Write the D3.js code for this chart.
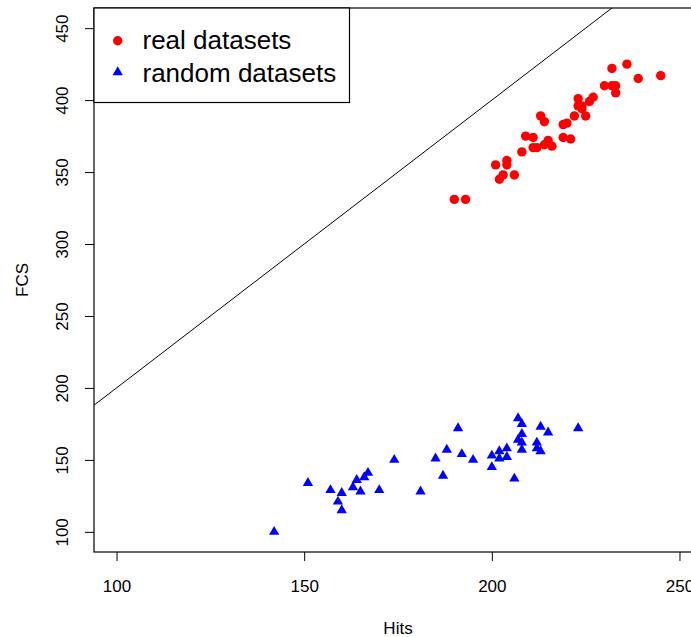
<!DOCTYPE html>
<html>
<head>
<meta charset="utf-8">
<script src="https://cdn.jsdelivr.net/npm/d3@7"></script>
<style>
  html, body { margin: 0; padding: 0; background: #fff; }
  svg { display: block; font-family: "Liberation Sans", Arial, Helvetica, sans-serif; }
</style>
</head>
<body>
<svg id="chart" width="691" height="637"></svg>
<script>
// ---- data ----
const realHits = [236,232,245,239,230,232,233,233,227,226,223,223,224,224,222,225,213,214,219,220,209,211,219,221,211,212,214,215,216,208,201,204,204,206,203,202,190,193];
const realFCS  = [425,422,417,415,410,410,410,405,402,399,401,396,396,394,389,389,389,385,383,384,375,374,374,373,367,367,369,372,368,364,355,358,355,348,348,345,331,331];
const randomHits = [142,151,157,160,159,160,163,164,166,167,165,170,174,181,185,187,188,191,192,195,200,200,202,202,204,204,206,207,208,208,207,208,208,213,212,212,213,215,223];
const randomFCS  = [100,134,129,127,121,115,131,136,138,141,128,129,150,128,151,139,157,172,154,150,153,145,156,151,158,152,137,179,175,168,164,162,157,173,162,158,156,169,172];
const xTicks = [100,150,200,250];
const yTicks = [100,150,200,250,300,350,400,450];
const xLim = [100,250];
const yLim = [100,450];
const legendLabels = ["real datasets","random datasets"];
const xLabel = "Hits";
const yLabel = "FCS";
const ablineSlope = 2, ablineIntercept = 0;

// ---- layout ----
const svg = d3.select("#chart");
const plot = {left: 94, top: 8, right: 702, bottom: 552};
const ext = (l) => { const d = (l[1]-l[0])*0.04; return [l[0]-d, l[1]+d]; };
const x = d3.scaleLinear().domain(ext(xLim)).range([plot.left, plot.right]);
const y = d3.scaleLinear().domain(ext(yLim)).range([plot.bottom, plot.top]);

svg.append("defs").append("clipPath").attr("id","clip")
  .append("rect").attr("x",plot.left).attr("y",plot.top)
  .attr("width",plot.right-plot.left).attr("height",plot.bottom-plot.top);

// abline y = 2x
const xd = x.domain();
svg.append("line").attr("clip-path","url(#clip)")
  .attr("x1", x(xd[0])).attr("y1", y(ablineIntercept + ablineSlope*xd[0]))
  .attr("x2", x(xd[1])).attr("y2", y(ablineIntercept + ablineSlope*xd[1]))
  .attr("stroke","#000").attr("stroke-width",1);

// points
svg.append("g").attr("clip-path","url(#clip)").selectAll("circle")
  .data(realHits.map((h,i)=>[h,realFCS[i]])).join("circle")
  .attr("cx", d=>x(d[0])).attr("cy", d=>y(d[1])).attr("r",4.7).attr("fill","#ff0000");

const tri = d3.symbol().type(d3.symbolTriangle).size(46);
svg.append("g").attr("clip-path","url(#clip)").selectAll("path")
  .data(randomHits.map((h,i)=>[h,randomFCS[i]])).join("path")
  .attr("d", tri).attr("transform", d=>`translate(${x(d[0])},${y(d[1])})`).attr("fill","#0000ff");

// axes
const xAxis = svg.append("g").attr("transform",`translate(0,${plot.bottom})`)
  .call(d3.axisBottom(x).tickValues(xTicks).tickSize(9).tickPadding(18.5).tickFormat(d3.format("d")));
xAxis.select(".domain").remove();
xAxis.selectAll("line").attr("stroke","#000");
xAxis.selectAll("text").attr("font-size",17).attr("fill","#000").attr("font-family",null);

const yAxis = svg.append("g").attr("transform",`translate(${plot.left},0)`)
  .call(d3.axisLeft(y).tickValues(yTicks).tickSize(9).tickFormat(d3.format("d")));
yAxis.select(".domain").remove();
yAxis.selectAll("line").attr("stroke","#000");
yAxis.selectAll("text").attr("font-size",17).attr("fill","#000").attr("font-family",null)
  .attr("x",null).attr("dy",null).attr("text-anchor","middle")
  .attr("transform", `translate(${68.3-plot.left},0) rotate(-90)`);

// box
svg.append("rect").attr("x",plot.left).attr("y",plot.top)
  .attr("width",plot.right-plot.left).attr("height",plot.bottom-plot.top)
  .attr("fill","none").attr("stroke","#000").attr("stroke-width",1.2);

// axis titles
svg.append("text").attr("x",(plot.left+plot.right)/2).attr("y",633.5)
  .attr("text-anchor","middle").attr("font-size",17).text(xLabel);
svg.append("text").attr("transform",`translate(28.3,${(plot.top+plot.bottom)/2}) rotate(-90)`)
  .attr("text-anchor","middle").attr("font-size",17).text(yLabel);

// legend
const lg = svg.append("g");
lg.append("rect").attr("x",plot.left).attr("y",plot.top).attr("width",255.5).attr("height",94.5)
  .attr("fill","#fff").attr("stroke","#000").attr("stroke-width",1.2);
lg.append("circle").attr("cx",117.7).attr("cy",40.7).attr("r",4.7).attr("fill","#ff0000");
lg.append("path").attr("d",tri).attr("transform","translate(117.7,72.2)").attr("fill","#0000ff");
lg.append("text").attr("x",142.5).attr("y",48.8).attr("font-size",26).text(legendLabels[0]);
lg.append("text").attr("x",142.5).attr("y",82.2).attr("font-size",26).text(legendLabels[1]);
</script>
</body>
</html>
